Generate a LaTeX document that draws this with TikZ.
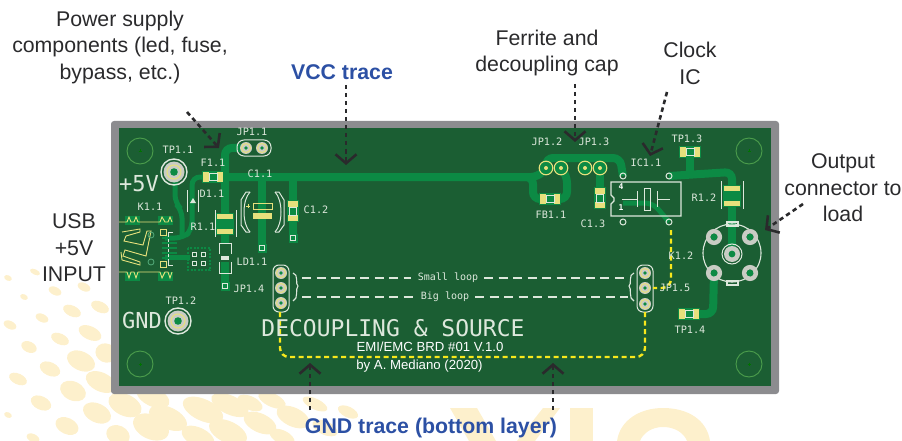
\documentclass[tikz,border=0pt]{standalone}
\usepackage{fontspec}
\setmainfont{Liberation Sans}
\newfontfamily\silkfont{DejaVu Sans Mono}
\usetikzlibrary{arrows.meta}
\definecolor{boardgreen}{HTML}{1B5E33}
\definecolor{tracegreen}{HTML}{0C8A44}
\definecolor{framegray}{HTML}{8C8C8F}
\definecolor{silkwhite}{HTML}{DDE8DC}
\definecolor{padyellow}{HTML}{E6E07C}
\definecolor{padgray}{HTML}{C9CCC4}
\definecolor{looseyellow}{HTML}{F7E81C}
\definecolor{inkgray}{HTML}{2A2A2C}
\definecolor{noteblue}{HTML}{2C50A4}
\definecolor{bgdot}{HTML}{FDF0CC}
\tikzset{
	note/.style={font=\fontsize{21.3}{26.5}\selectfont,text=inkgray,align=center},
	bluenote/.style={font=\bfseries\fontsize{21.3}{24}\selectfont,text=noteblue},
	silk/.style={font=\silkfont\fontsize{10.2}{12}\selectfont,text=silkwhite,inner sep=0pt},
	callout/.style={draw=inkgray,line width=2.6pt,dash pattern=on 4.5pt off 3.5pt,-{Straight Barb[length=9pt,width=21pt,line width=2.6pt]}},
	pcbtrace/.style={draw=tracegreen,line width=8pt,rounded corners=7pt},
	silkline/.style={draw=silkwhite,line width=1pt},
	loopline/.style={draw=silkwhite,line width=1.8pt,dash pattern=on 9pt off 5.5pt},
	gndline/.style={draw=looseyellow,line width=2.4pt,dash pattern=on 5pt off 3.5pt,rounded corners=9pt},
	usbline/.style={draw=padyellow,line width=0.9pt},
}
\newcommand{\smdV}[2]{
	\fill[tracegreen] (#1-6,#2-11) rectangle (#1+6,#2+11);
	\fill[padyellow] (#1-5,#2-10) rectangle (#1+5,#2-4);
	\fill[padyellow] (#1-5,#2+4) rectangle (#1+5,#2+10);
	\draw[silkwhite,line width=0.6pt] (#1-3.5,#2-4) rectangle (#1+3.5,#2+4);
}
\newcommand{\smdBig}[2]{
	\fill[tracegreen] (#1-9,#2-11) rectangle (#1+9,#2+11);
	\fill[padyellow] (#1-8,#2-10) rectangle (#1+8,#2-5);
	\fill[padyellow] (#1-8,#2+5) rectangle (#1+8,#2+10);
}
\newcommand{\smdH}[2]{
	\fill[tracegreen] (#1-11,#2-6) rectangle (#1+11,#2+6);
	\fill[padyellow] (#1-10,#2-5) rectangle (#1-4,#2+5);
	\fill[padyellow] (#1+4,#2-5) rectangle (#1+10,#2+5);
	\draw[silkwhite,line width=0.6pt] (#1-4,#2-3.5) rectangle (#1+4,#2+3.5);
}
\newcommand{\pinAt}[2]{
	\fill[padgray] (#1,#2) circle (6pt);
	\draw[padyellow,line width=1pt] (#1,#2) circle (4.5pt);
	\fill[tracegreen] (#1,#2) circle (1.8pt);
}
\newcommand{\ringAt}[2]{
	\fill[tracegreen] (#1,#2) circle (7pt);
	\draw[padyellow,line width=1.1pt] (#1,#2) circle (6.8pt);
	\fill[padyellow] (#1,#2) circle (2pt);
}
\newcommand{\viaAt}[2]{
	\fill[tracegreen] (#1-4.5,#2-4.5) rectangle (#1+4.5,#2+4.5);
	\draw[silkwhite,line width=0.9pt] (#1-2.2,#2-2.2) rectangle (#1+2.2,#2+2.2);
}
\newcommand{\holeAt}[2]{
	\draw[green!45!black!70!white,line width=0.9pt] (#1,#2) circle (13pt);
	\draw[green!45!black,line width=0.4pt] (#1-1.5,#2) to (#1+1.5,#2) (#1,#2-1.5) to (#1,#2+1.5);
}
\newcommand{\testAt}[2]{
	\draw[silkwhite,line width=1.4pt] (#1,#2) circle (13pt);
	\fill[padgray] (#1,#2) circle (10.5pt);
	\draw[padyellow,line width=1pt] (#1,#2) circle (7pt);
	\fill[tracegreen] (#1,#2) circle (3.8pt);
}
\newcommand{\bncPadAt}[2]{
	\draw[padgray,line width=4.5pt] (#1,#2) circle (5.8pt);
	\fill[tracegreen] (#1,#2) circle (3.4pt);
}

\begin{document}
\begin{tikzpicture}[x=1pt,y=-1pt]
	\useasboundingbox (0,0) rectangle (902,441);

	% pale dots and letters behind the board
	\foreach \x/\y/\a/\b in {55/291/5/3,84/287/5/3,24/297/3/2,72/311/7/4,100/307/7/4,42/318/5/3,10/325/5/3,
		90/333/9/5,60/339/7/4,29/347/6/4,81/361/11/7,106/353/8/7,50/369/8/5,18/379/7/4,101/382/12/7,73/391/10/7,
		41/403/8/5,8/415/3/2,97/413/11/7,67/426/9/6,125/405/13/8,153/397/13/7,168/418/15/8,151/427/14/9,
		203/410/16/8,230/405/15/7,228/432/15/8,198/437/13/7,260/423/13/7,293/417/13/7,118/435/9/7,33/438/5/3,
		282/437/10/5,250/403/10/5,272/400/11/5,315/404/10/4,325/428/10/5,348/412/8/4,8/278/3/2,35/272/4/2}
		\fill[bgdot,rotate around={-25:(\x,\y)}] (\x,\y) ellipse ({1.35*\a pt} and {1.35*\b pt});
	\fill[bgdot] (450,408) to (477,408) to (496,441) to (469,441) to cycle;
	\fill[bgdot] (570,408) to (593,408) to (593,441) to (570,441) to cycle;
	\fill[bgdot] (543,408) to (560,408) to (535,441) to (517,441) to cycle;
	\fill[bgdot] (617,441) .. controls (620,420) and (640,408) .. (663,408) .. controls (688,408) and (707,420) .. (710,441)
		to (687,441) .. controls (684,433) and (675,427) .. (663,427) .. controls (652,427) and (643,433) .. (640,441) to cycle;

	% board
	\fill[framegray,rounded corners=3pt] (111,121) rectangle (779,394);
	\fill[boardgreen] (119,128) rectangle (771,386);
	\holeAt{140}{151}
	\holeAt{140}{364}
	\holeAt{749}{151}
	\holeAt{749}{364}

	% traces
	\begin{scope}[pcbtrace]
		\draw (246,148) to (225,148) to (225,243);
		\draw (225,262) to (225,286);
		\draw (205,177) to (533,177) to (533,199) to (545,199);
		\draw (520,177) to (538,177) to (546,168);
		\draw (556,199) to (567,199) to (567,176) to (561,168);
		\draw (546,168) to (546,158) to (620,158) to (623,176);
		\draw (600,168) to (600,198);
		\draw (669,176) to (732,172) to (732,196);
		\draw (732,196) to (732,253);
		\draw (714,273) to (713,314) to (690,314);
		\draw (690,152) to (690,172);
		\draw (262,177) to (262,248);
		\draw (293,177) to (293,238);
	\end{scope}
	\begin{scope}[pcbtrace,line width=5pt,rounded corners=8pt]
		\draw (205,177) to (192,177) to (192,230) to (183,238) to (165,238);
		\draw (175,172) to (175,203) to (182,210) to (182,238);
		\draw (165,257) to (190,257);
		\draw (623,203) to (653,203) to (669,222);
	\end{scope}

	% test points and headers
	\testAt{174}{172}
	\testAt{178}{321}
	\draw[silkline,rounded corners=7pt] (237,140) rectangle (271,156);
	\pinAt{246}{148}
	\pinAt{262}{148}
	\ringAt{546}{168}
	\ringAt{561}{168}
	\ringAt{585}{168}
	\ringAt{600}{168}
	\draw[silkline,rounded corners=6pt] (273,265) rectangle (289,312);
	\pinAt{281}{273}
	\pinAt{281}{288}
	\pinAt{281}{303}
	\draw[silkline,rounded corners=6pt] (637,265) rectangle (653,312);
	\pinAt{645}{273}
	\pinAt{645}{288}
	\pinAt{645}{304}

	% parts near the input
	\smdH{213}{177}
	\smdBig{225}{224}
	\smdV{293}{211}
	\smdV{600}{198}
	\smdBig{732}{196}
	\smdH{550}{199}
	\smdH{690}{152}
	\smdH{689}{314}
	\viaAt{225}{286}
	\viaAt{262}{248}
	\viaAt{293}{238}
	\draw[silkline] (215,210) to (215,237) (236,210) to (236,237);
	\draw[silkline] (187,190) to (187,212) (198,190) to (198,212);
	\fill[silkwhite] (190,203) to (196,203) to (193,198) to cycle;
	\draw[silkline] (219,254) to (219,243) to (231,243) to (231,254);
	\draw[silkline] (219,262) to (219,273) to (231,273) to (231,262);
	\fill[silkwhite] (221,256) rectangle (229,260);

	% big capacitor
	\fill[tracegreen] (259,190) rectangle (265,240);
	\draw[padyellow,line width=1pt] (253,203) rectangle (272,209);
	\fill[padyellow] (253,213) rectangle (272,219);
	\draw[silkline] (250,192) to (246,192) to (241,200) to (241,225) to (246,232) to (250,232);
	\draw[silkline] (250,192) .. controls (242,200) and (242,224) .. (250,232);
	\draw[silkline] (275,192) to (279,192) to (284,200) to (284,225) to (279,232) to (275,232);
	\draw[silkline] (275,192) .. controls (283,200) and (283,224) .. (275,232);
	\draw[padyellow,line width=0.9pt] (246,206) to (250,206) (248,204) to (248,208);

	% usb socket
	\foreach \x/\y in {125/216,158/216,125/272,158/272}
		\fill[tracegreen] (\x,\y) rectangle (\x+15,\y+9);
	\draw[usbline] (119,222) to (127,222) to (129,217) to (131,222) to (134,222) to (136,217) to (138,222) to (160,222) to (162,217) to (165,222) to (168,222) to (170,217) to (172,222);
	\draw[usbline] (119,272) to (127,272) to (129,278) to (131,272) to (134,272) to (136,278) to (138,272) to (160,272) to (162,278) to (165,272) to (168,272) to (170,278) to (172,272);
	\draw[usbline] (122,232) to (140,229) to (140,232) to (126,236) to (124,241) to (143,245) to (147,231) to (151,231) to (146,256) to (125,250) to (123,256) to (140,262) to (140,265) to (122,260) to (121,252);
	\draw[tracegreen!70!white,line width=0.8pt] (151,235) circle (3pt) (151,262) circle (3pt);
	\draw[usbline] (160,229) rectangle (166,235) (160,261) rectangle (166,267);
	\draw[silkline] (173,232) to (168,232) to (168,265) to (173,265);
	\foreach \y in {238,243,248,253,258}
		\draw[tracegreen,line width=2.6pt] (162,\y) to (177,\y);
	\draw[tracegreen,line width=1.8pt,dash pattern=on 2pt off 1.5pt] (188,248) rectangle (210,270);
	\foreach \x/\y in {194/254,203/254,194/263,203/263}
		\draw[silkwhite,line width=0.8pt] (\x-2,\y-2) rectangle (\x+2,\y+2);

	% oscillator
	\draw[silkline,line width=1.3pt] (611,182) to (681,182) to (681,216) to (611,216) to (611,204) to (614,201) to (614,198) to (611,195) to cycle;
	\draw[silkline] (622,199) to (637,199) (637,191) to (637,207) (644,188) rectangle (650,210) (657,191) to (657,207) (657,199) to (670,199);
	\foreach \x/\y in {623/176,669/176,623/222,669/222}
		\draw[silkwhite,line width=1pt] (\x,\y) circle (3pt);
	\node[silk,font=\silkfont\bfseries\fontsize{8}{9}\selectfont,text=white] (pinFour) at (621,187) {4};
	\node[silk,font=\silkfont\bfseries\fontsize{8}{9}\selectfont,text=white] (pinOne) at (621,208) {1};

	% output connector
	\draw[silkline,line width=1.1pt] (732,253) circle (29pt);
	\bncPadAt{714}{237}
	\bncPadAt{750}{237}
	\bncPadAt{714}{273}
	\bncPadAt{750}{273}
	\fill[padgray] (732,254) circle (8pt);
	\fill[tracegreen] (732,254) circle (3.4pt);
	\draw[silkwhite,line width=1pt] (732,254) circle (10pt);
	\draw[silkline,line width=1.1pt] (727,222) rectangle (738,226);
	\draw[silkline,line width=1.1pt] (727,281) rectangle (738,285);
	\draw[silkline] (721,181) to (721,209) (743,181) to (743,209);

	% loops
	\draw[gndline] (671,230) to (671,288) to (653,288);
	\draw[gndline] (645,312) to (645,357) to (280,357) to (280,308);
	\draw[loopline] (302,278) to (411,278);
	\draw[loopline] (484,278) to (628,278);
	\draw[loopline] (302,297) to (414,297);
	\draw[loopline] (475,297) to (628,297);
	\draw[silkline,line width=1.1pt] (293,273) .. controls (299,274) and (295,285) .. (298,286) .. controls (295,288) and (299,299) .. (293,301);
	\draw[silkline,line width=1.1pt] (634,273) .. controls (628,274) and (632,285) .. (629,286) .. controls (632,288) and (628,299) .. (634,301);

	% silkscreen names
	\node[silk] (tpOne) at (178,150) {TP1.1};
	\node[silk] (jpOne) at (252,132) {JP1.1};
	\node[silk] (fuse) at (213,163) {F1.1};
	\node[silk] (diode) at (212,194) {D1.1};
	\node[silk] (capOne) at (260,174) {C1.1};
	\node[silk] (capTwo) at (316,210) {C1.2};
	\node[silk] (usbName) at (150,207) {K1.1};
	\node[silk] (resOne) at (203,227) {R1.1};
	\node[silk] (ledName) at (252,262) {LD1.1};
	\node[silk] (jpFour) at (249,289) {JP1.4};
	\node[silk] (tpTwo) at (181,301) {TP1.2};
	\node[silk] (jpTwo) at (547,142) {JP1.2};
	\node[silk] (jpThree) at (594,142) {JP1.3};
	\node[silk] (beadName) at (551,215) {FB1.1};
	\node[silk] (capThree) at (593,224) {C1.3};
	\node[silk] (clockName) at (646,163) {IC1.1};
	\node[silk] (tpThree) at (687,139) {TP1.3};
	\node[silk] (resTwo) at (704,198) {R1.2};
	\node[silk] (outName) at (681,256) {K1.2};
	\node[silk] (jpFive) at (675,288) {JP1.5};
	\node[silk] (tpFour) at (690,330) {TP1.4};
	\node[silk,font=\silkfont\fontsize{10}{11}\selectfont] (smallLoop) at (448,278) {Small loop};
	\node[silk,font=\silkfont\fontsize{10}{11}\selectfont] (bigLoop) at (445,297) {Big loop};
	\node[silk,font=\silkfont\fontsize{22}{24}\selectfont] (plusFive) at (139,184) {+5V};
	\node[silk,font=\silkfont\fontsize{22}{24}\selectfont] (gndName) at (142,320) {GND};
	\node[silk,font=\silkfont\fontsize{23}{25}\selectfont] (boardTitle) at (393,328) {DECOUPLING \& SOURCE};
	\node[silk,text=white,font=\fontsize{13.2}{15}\selectfont] (boardRev) at (430,347) {EMI/EMC BRD \#01 V.1.0};
	\node[silk,text=white,font=\fontsize{13.2}{15}\selectfont] (boardBy) at (419.5,366) {by A. Mediano (2020)};

	% notes round the board
	\node[note] (supplyNote) at (120,47) {Power supply\\components (led, fuse,\\bypass, etc.)};
	\node[bluenote] (vccNote) at (342,72) {VCC trace};
	\node[note] (beadNote) at (547,53) {Ferrite and\\decoupling cap};
	\node[note] (clockNote) at (690,63.5) {Clock\\IC};
	\node[note] (outNote) at (843,188) {Output\\connector to\\load};
	\node[note] (usbNote) at (74,248) {USB\\+5V\\INPUT};
	\node[bluenote] (gndNote) at (431,428) {GND trace (bottom layer)};

	\coordinate (supplyFrom) at (187,112);
	\coordinate (supplyTip) at (219,148);
	\coordinate (vccFrom) at (346,85);
	\coordinate (vccTip) at (346,165);
	\coordinate (beadFrom) at (575,84);
	\coordinate (beadTip) at (575,142);
	\coordinate (clockFrom) at (667,92);
	\coordinate (clockTip) at (650,156);
	\coordinate (outFrom) at (803,204);
	\coordinate (outTip) at (765,230);
	\coordinate (gndFromA) at (310,410);
	\coordinate (gndTipA) at (310,363);
	\coordinate (gndFromB) at (553,410);
	\coordinate (gndTipB) at (553,363);
	\draw[callout] (supplyFrom) to (supplyTip);
	\draw[callout] (vccFrom) to (vccTip);
	\draw[callout] (beadFrom) to (beadTip);
	\draw[callout] (clockFrom) to (clockTip);
	\draw[callout] (outFrom) to (outTip);
	\draw[callout] (gndFromA) to (gndTipA);
	\draw[callout] (gndFromB) to (gndTipB);
\end{tikzpicture}
\end{document}
